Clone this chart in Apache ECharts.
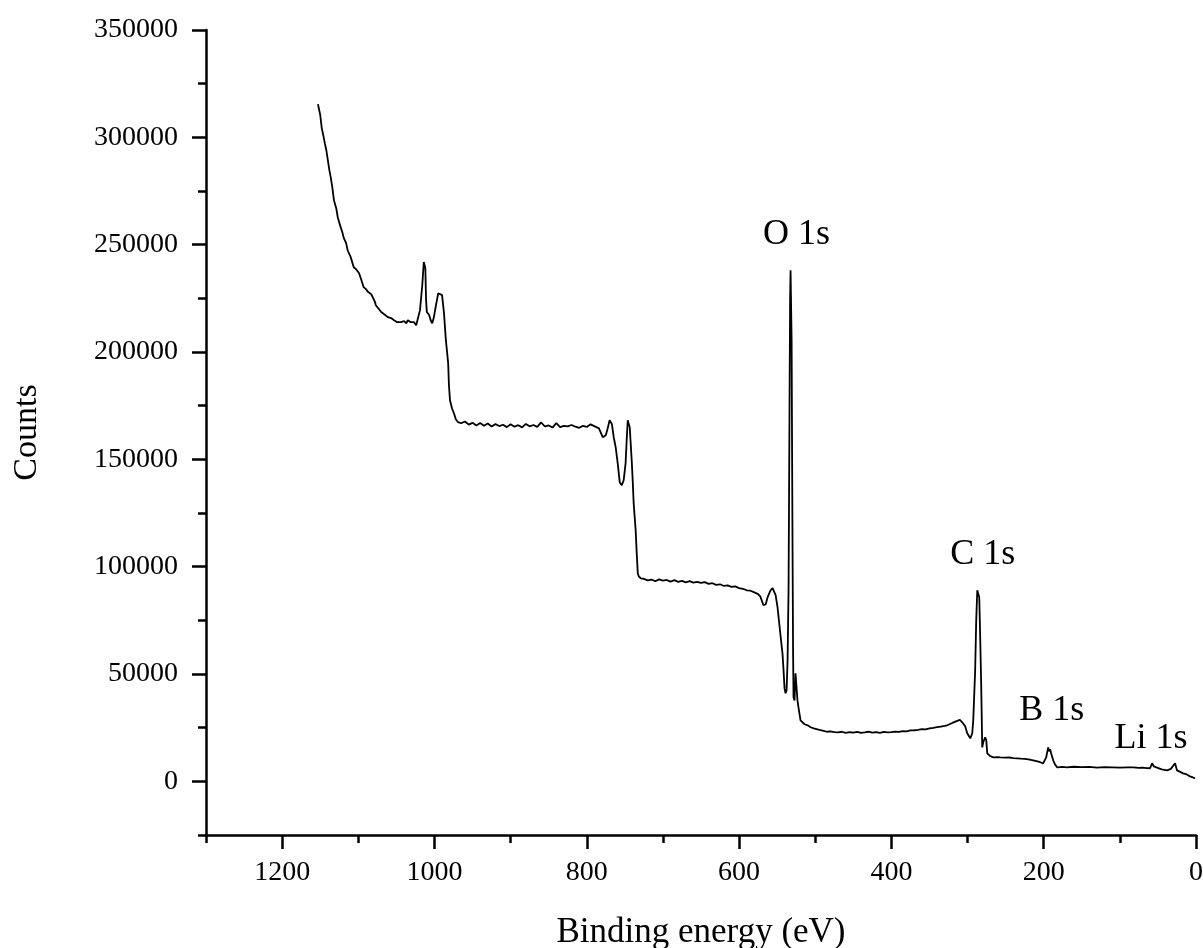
<!DOCTYPE html>
<html>
<head>
<meta charset="utf-8">
<script src="https://cdn.jsdelivr.net/npm/echarts@6/dist/echarts.min.js"></script>
<style>
html,body{margin:0;padding:0;background:#fff;overflow:hidden;}
#chart{width:1203px;height:948px;position:absolute;left:0;top:0;}
</style>
</head>
<body>
<div id="chart"></div>
<script>
// Binding energy (eV), descending
var bindingEnergy = [
1153,1150,1148,1146,1144,1142,1140,1138,1136,1134,1132,1129,1127,1124,1121,1119,1116,1114,1110,1106,
1103,1099,1096,1093,1090,1087,1083,1081,1078,1077,1073,1070,1066,1061,1057,1053,1049,1047,1044,1040,
1037,1035,1031,1027,1024,1022,1019,1016,1014,1012,1011,1010,1007,1005,1003,1001,998,995,993,990,
989,987.5,985,982,981,979.6,977,974,972,969,
965,960,955,950,945,940,935,930,925,920,915,910,905,900,895,890,885,880,875,870,
865,860,855,850,845,840,835,830,825,820,815,810,805,800,795,
784,779,775,772.5,770,767,764.6,762,759.4,756.7,754,751.5,749,747.6,746.2,745,743.6,741,739.7,738.4,
735.8,734.4,733,731.8,729,
725,720,715,710,705,700,695,690,685,680,675,670,665,660,655,650,645,640,635,630,
625,620,615,610,605,600,595,590,585,580,575,
572,568,565,562.6,558.7,556,552,549.5,547,544.2,543,541.6,540.3,539,537.6,536.3,535,533.7,533,532.4,
531,530.4,529.8,529.1,528.5,527.2,525.9,524.6,523.3,522,519.3,518,514,510,506,502,497,493,489,485,
480,475,470,465,460,455,450,445,440,435,430,425,420,415,410,405,400,395,390,385,
380,375,370,365,360,355,350,345,340,335,330,326.6,320,316,313.4,310,307,303,300.4,296.4,
293.8,292.5,290,288.6,287.2,285.9,284.6,283.3,282,280.7,279.4,276.8,275.4,274.1,272.8,270.2,266,260,257,250,
245,240,234.8,230,225,220,213.8,208,204.6,200.7,196.7,194.1,192.8,191.5,190.2,187.5,185,182.3,175,170,
160,150,140,130,120,110,100,90,82.6,75,70,65,60.3,57.7,55.5,53.8,45,38,33,31.5,
27.5,26,24.9,20,17,12,7.9,4,1.3
];
// Counts
var counts = [
315500,310400,304300,301000,297300,294000,289400,284700,281000,276300,270700,267000,262800,259100,255800,253000,250700,247400,244200,239500,
238600,236700,233500,230200,229300,227900,226900,226500,223200,221800,220000,218600,217600,216200,215800,214800,213900,214800,213900,214400,
213400,214800,213900,213900,212500,213400,219500,231100,241900,239100,224100,218600,217200,214800,213400,215800,221800,227400,227900,226500,
226000,218100,205500,194800,184500,177500,173800,171000,168700,167300,
166800,167600,166200,167000,165800,166900,165600,166700,165300,166400,165500,166100,165000,166300,165200,165900,164900,166500,165400,166000,
165100,167200,165300,165800,164800,166900,165000,165600,165400,166000,165200,164700,165600,165100,166300,
164400,160300,161200,164500,168200,166400,160300,155600,148200,139300,137900,140300,148200,158900,168200,167300,165000,149600,140300,129500,
117000,106200,96900,95500,94600,
94300,93600,94000,93200,94100,93500,93800,93000,93700,92900,93400,92700,93300,92600,92900,92400,92800,92000,92300,91500,
91800,91000,91300,90600,90800,90000,89700,89000,88800,88000,87200,
86000,82000,82500,85700,89000,90000,86700,81100,72700,63400,59600,51700,43300,41000,42400,56400,90400,177500,224000,238100,
205500,154200,109000,61000,39100,37700,50300,49400,37700,34500,28400,27500,26600,26100,25200,24700,24200,23800,23500,23100,
23300,22900,22800,23100,22600,22900,22700,23000,22600,22800,23100,22700,22900,22600,23000,22800,22900,23200,23000,23400,
23300,23700,23800,24000,24300,24200,24700,24900,25200,25500,25800,26100,27200,27800,28400,28600,27500,25600,22400,20000,
22400,28400,51700,75000,89000,88100,85700,65700,43800,15800,18200,20500,19100,13000,12100,11700,11200,11300,11200,11000,
11100,10800,10700,10600,10500,10200,9800,9300,8900,8400,11200,15800,14000,15000,13000,9800,7800,6500,6700,6500,
6800,6600,6700,6400,6600,6500,6400,6500,6500,6300,6400,6200,6100,8400,7000,6100,5600,5100,5800,6500,
8400,7500,5100,4300,3700,3200,2300,1800,1400
];
// Peak annotations
var peakLabels = ['O 1s', 'C 1s', 'B 1s', 'Li 1s'];
var peakLabelX = [524.6, 280, 189.5, 59];
var peakLabelY = [254900, 105500, 33000, 20000];
// Axis ticks
var xMajorTicks = [0, 200, 400, 600, 800, 1000, 1200];
var xMinorTicks = [100, 300, 500, 700, 900, 1100, 1300];
var yMajorTicks = [0, 50000, 100000, 150000, 200000, 250000, 300000, 350000];
var yMinorTicks = [-25000, 25000, 75000, 125000, 175000, 225000, 275000, 325000];

var serif = 'Liberation Serif';
var lineData = bindingEnergy.map(function (x, i) { return [x, counts[i]]; });
var labelData = peakLabels.map(function (n, i) { return { name: n, value: [peakLabelX[i], peakLabelY[i]] }; });
var plain = function (v) { return String(v); };

var chart = echarts.init(document.getElementById('chart'), null, { renderer: 'canvas', width: 1203, height: 948 });
var axisColor = '#000';
var gridRect = { left: 206, top: 30, width: 990, height: 805, containLabel: false, outerBoundsMode: 'none' };
chart.setOption({
  animation: false,
  backgroundColor: '#fff',
  grid: [gridRect, gridRect],
  xAxis: [{
    gridIndex: 0, type: 'value', inverse: true, min: 0, max: 1300, interval: 100, position: 'bottom',
    axisLine: { show: true, onZero: false, lineStyle: { color: axisColor, width: 2.5 } },
    axisTick: { show: true, length: 14, customValues: xMajorTicks, lineStyle: { color: axisColor, width: 2.5 } },
    axisLabel: { show: true, customValues: xMajorTicks, formatter: plain, margin: 24, fontSize: 28, fontFamily: serif, color: '#000' },
    splitLine: { show: false },
    name: 'Binding energy (eV)', nameLocation: 'middle', nameGap: 80, nameMoveOverlap: false,
    nameTextStyle: { fontSize: 35, fontFamily: serif, color: '#000' }
  }, {
    gridIndex: 1, type: 'value', inverse: true, min: 0, max: 1300, interval: 100, position: 'bottom',
    axisLine: { show: false, onZero: false },
    axisTick: { show: true, length: 8, customValues: xMinorTicks, lineStyle: { color: axisColor, width: 2.5 } },
    axisLabel: { show: false },
    splitLine: { show: false }
  }],
  yAxis: [{
    gridIndex: 0, type: 'value', min: -25000, max: 350000, interval: 25000, position: 'left',
    axisLine: { show: true, onZero: false, lineStyle: { color: axisColor, width: 2.5 } },
    axisTick: { show: true, length: 14, customValues: yMajorTicks, lineStyle: { color: axisColor, width: 2.5 } },
    axisLabel: { show: true, customValues: yMajorTicks, formatter: plain, margin: 28, fontSize: 28, fontFamily: serif, color: '#000' },
    splitLine: { show: false },
    name: 'Counts', nameLocation: 'middle', nameGap: 162, nameRotate: 90, nameMoveOverlap: false,
    nameTextStyle: { fontSize: 34, fontFamily: serif, color: '#000' }
  }, {
    gridIndex: 1, type: 'value', min: -25000, max: 350000, interval: 25000, position: 'left',
    axisLine: { show: false, onZero: false },
    axisTick: { show: true, length: 8, customValues: yMinorTicks, lineStyle: { color: axisColor, width: 2.5 } },
    axisLabel: { show: false },
    splitLine: { show: false }
  }],
  series: [{
    type: 'line', xAxisIndex: 0, yAxisIndex: 0, data: lineData,
    showSymbol: false, symbol: 'none', smooth: false,
    lineStyle: { color: '#000', width: 1.8 }, silent: true
  }, {
    type: 'scatter', xAxisIndex: 0, yAxisIndex: 0, data: labelData,
    symbolSize: 1, itemStyle: { color: 'rgba(0,0,0,0)' }, silent: true,
    label: { show: true, position: 'inside', formatter: '{b}', fontSize: 36, fontFamily: serif, color: '#000', textBorderWidth: 0, opacity: 1 }
  }]
});
</script>
</body>
</html>
